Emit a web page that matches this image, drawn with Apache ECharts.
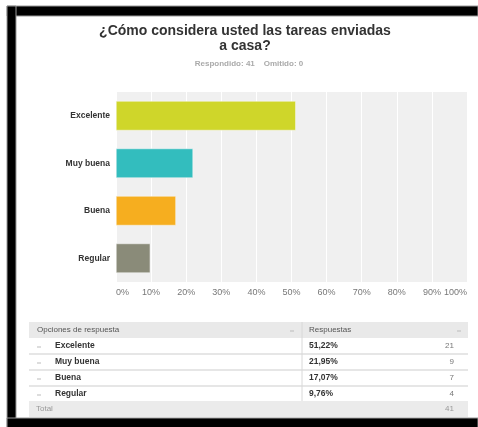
<!DOCTYPE html>
<html><head><meta charset="utf-8">
<script src="https://cdn.jsdelivr.net/npm/echarts@6/dist/echarts.min.js"></script>
<style>html,body{margin:0;padding:0;background:#fff}#c{width:478px;height:427px}</style>
</head><body><div id="c"></div>
<script>
const titleLines = ['¿Cómo considera usted las tareas enviadas', 'a casa?'];
const subtitle = 'Respondido: 41    Omitido: 0';
const categories = ['Excelente', 'Muy buena', 'Buena', 'Regular'];
const percents = [51.22, 21.95, 17.07, 9.76];
const percentLabels = ['51,22%', '21,95%', '17,07%', '9,76%'];
const counts = [21, 9, 7, 4];
const totalCount = 41;
const colors = ['#cfd62a', '#33bdbe', '#f6ae1f', '#8a8b79'];
const tableHeaders = ['Opciones de respuesta', 'Respuestas'];

const F = 'Arial, "Liberation Sans", sans-serif';
const chart = echarts.init(document.getElementById('c'), null, {renderer: 'canvas'});

const g = [];
// frame
g.push({type: 'rect', shape: {x: 7, y: 6, width: 471, height: 10}, style: {fill: '#000', stroke: '#999', lineWidth: 1}, z: 10});
g.push({type: 'rect', shape: {x: 7, y: 6, width: 9, height: 421}, style: {fill: '#000', stroke: '#999', lineWidth: 1}, z: 10});
g.push({type: 'rect', shape: {x: 7, y: 418, width: 471, height: 10}, style: {fill: '#000', stroke: '#999', lineWidth: 1}, z: 10});
// title
titleLines.forEach((t, i) => g.push({type: 'text', x: 245, y: 31 + i * 15, style: {text: t, font: 'bold 14px ' + F, fill: '#333', align: 'center', verticalAlign: 'middle'}}));
g.push({type: 'text', x: 249, y: 64, style: {text: subtitle, font: 'bold 8px ' + F, fill: '#aaa', align: 'center', verticalAlign: 'middle'}});

// table
const tx0 = 29, tx1 = 468, divX = 302, hy = 322, rh = 16;
g.push({type: 'rect', shape: {x: tx0, y: hy, width: tx1 - tx0, height: rh}, style: {fill: '#e9e9e9'}});
g.push({type: 'text', x: 37, y: hy + rh / 2, style: {text: tableHeaders[0], font: '8px ' + F, fill: '#555', verticalAlign: 'middle'}});
g.push({type: 'text', x: 309, y: hy + rh / 2, style: {text: tableHeaders[1], font: '8px ' + F, fill: '#555', verticalAlign: 'middle'}});
[292, 459].forEach(x => g.push({type: 'line', shape: {x1: x - 2, y1: hy + 9, x2: x + 2, y2: hy + 9}, style: {stroke: '#bbb', lineWidth: 1}}));
categories.forEach((c, i) => {
  const y = hy + rh * (i + 1);
  g.push({type: 'line', shape: {x1: tx0, y1: y + rh, x2: tx1, y2: y + rh}, style: {stroke: '#dedede', lineWidth: 1.5}});
  g.push({type: 'line', shape: {x1: 37, y1: y + 9, x2: 41, y2: y + 9}, style: {stroke: '#bbb', lineWidth: 1}});
  g.push({type: 'text', x: 55, y: y + rh / 2, style: {text: c, font: 'bold 8.5px ' + F, fill: '#333', verticalAlign: 'middle'}});
  g.push({type: 'text', x: 309, y: y + rh / 2, style: {text: percentLabels[i], font: 'bold 8.5px ' + F, fill: '#333', verticalAlign: 'middle'}});
  g.push({type: 'text', x: 454, y: y + rh / 2, style: {text: String(counts[i]), font: '8px ' + F, fill: '#777', align: 'right', verticalAlign: 'middle'}});
});
const ty = hy + rh * 5 - 1;
g.push({type: 'line', shape: {x1: divX, y1: hy, x2: divX, y2: ty}, style: {stroke: '#d8d8d8', lineWidth: 1}});
g.push({type: 'rect', shape: {x: tx0, y: ty, width: tx1 - tx0, height: 16}, style: {fill: '#ebebeb'}});
g.push({type: 'text', x: 36, y: ty + 8, style: {text: 'Total', font: '8px ' + F, fill: '#999', verticalAlign: 'middle'}});
g.push({type: 'text', x: 454, y: ty + 8, style: {text: String(totalCount), font: '8px ' + F, fill: '#999', align: 'right', verticalAlign: 'middle'}});

chart.setOption({
  backgroundColor: '#fff',
  animation: false,
  graphic: g,
  grid: {left: 116, right: 11, top: 92, bottom: 145, show: true, backgroundColor: '#f0f0f0', borderWidth: 0},
  xAxis: {
    type: 'value', min: 0, max: 100, interval: 10,
    axisLine: {show: false}, axisTick: {show: false},
    splitLine: {show: true, lineStyle: {color: '#fff', width: 1}},
    axisLabel: {formatter: '{value}%', color: '#777', fontSize: 9, fontFamily: F, margin: 6, alignMinLabel: 'left', alignMaxLabel: 'right'}
  },
  yAxis: {
    type: 'category', data: categories, inverse: true,
    axisLine: {show: false}, axisTick: {show: false},
    axisLabel: {color: '#333', fontSize: 8.5, fontWeight: 'bold', fontFamily: F, margin: 6}
  },
  series: [{
    type: 'bar', data: percents.map((v, i) => ({value: v, itemStyle: {color: colors[i]}})),
    barCategoryGap: '38%',
    itemStyle: {borderColor: '#f8f8f8', borderWidth: 0.5}
  }]
});
</script></body></html>
